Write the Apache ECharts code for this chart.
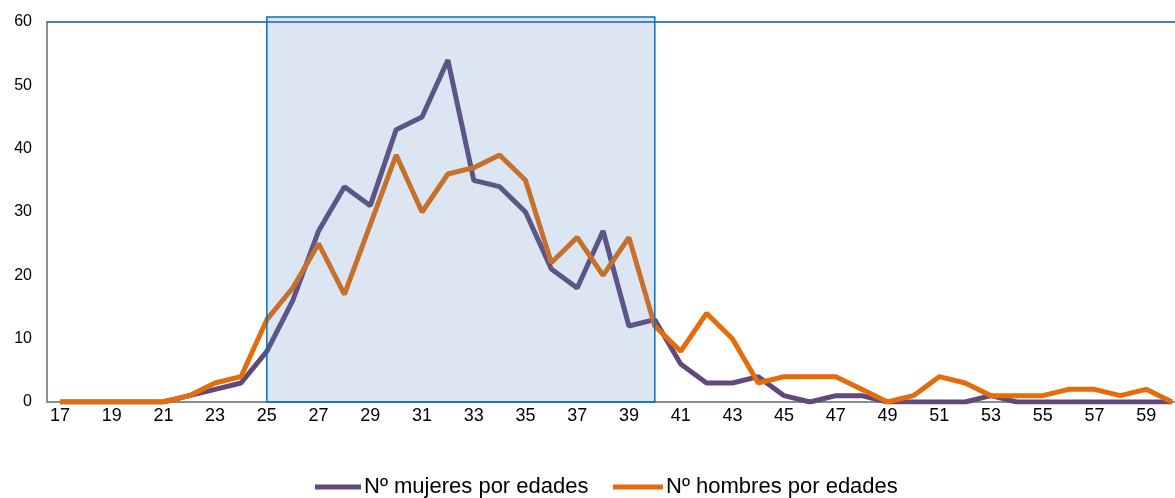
<!DOCTYPE html>
<html><head><meta charset="utf-8">
<script src="https://cdn.jsdelivr.net/npm/echarts@6/dist/echarts.min.js"></script>
<style>html,body{margin:0;padding:0;background:#fff}#c{width:1175px;height:498px}</style>
</head><body><div id="c"></div>
<script>
const ages = ['17','18','19','20','21','22','23','24','25','26','27','28','29','30','31','32','33','34','35','36','37','38','39','40','41','42','43','44','45','46','47','48','49','50','51','52','53','54','55','56','57','58','59','60'];
const mujeres = [0,0,0,0,0,1,2,3,8,16,27,34,31,43,45,54,35,34,30,21,18,27,12,13,6,3,3,4,1,0,1,1,0,0,0,0,1,0,0,0,0,0,0,0];
const hombres = [0,0,0,0,0,1,3,4,13,18,25,17,28,39,30,36,37,39,35,22,26,20,26,12,8,14,10,3,4,4,4,2,0,1,4,3,1,1,1,2,2,1,2,0];
const nameM = 'Nº mujeres por edades';
const nameH = 'Nº hombres por edades';
const bandStart = '25', bandEnd = '40', bandTop = 60.8;

const chart = echarts.init(document.getElementById('c'));
const font = 'Liberation Sans, Arial, sans-serif';
chart.setOption({
  animation: false,
  grid: {left: 47, width: 1138, top: 22, bottom: 96, containLabel: false, outerBoundsMode: 'none'},
  legend: [
    {data: [nameM], left: 310, top: 471, itemWidth: 46, itemHeight: 5, icon: 'rect', itemGap: 5,
     textStyle: {fontFamily: font, fontSize: 22, color: '#000', padding: [0,0,0,-2]}},
    {data: [nameH], left: 608, top: 471, itemWidth: 50, itemHeight: 5, icon: 'rect',
     textStyle: {fontFamily: font, fontSize: 22, color: '#000', padding: [0,0,0,-2]}}
  ],
  xAxis: [{
    type: 'category', data: ages, boundaryGap: true,
    axisLine: {lineStyle: {color: '#868E96', width: 2}},
    axisTick: {show: false},
    axisLabel: {interval: 1, fontFamily: font, fontSize: 18, color: '#000', margin: 5},
    splitLine: {show: false}
  }, {
    type: 'category', data: ages, position: 'top', boundaryGap: true,
    axisLine: {lineStyle: {color: '#4F81BD', width: 2}},
    axisTick: {show: false}, axisLabel: {show: false}
  }],
  yAxis: {
    type: 'value', min: 0, max: 60, interval: 10,
    axisLine: {show: true, lineStyle: {color: '#868E96', width: 2}},
    axisTick: {show: false},
    axisLabel: {fontFamily: font, fontSize: 16, color: '#000', margin: 15},
    splitLine: {show: false}
  },
  series: [
    {name: nameM, type: 'line', data: mujeres, symbol: 'none', z: 2,
     lineStyle: {color: '#604A7B', width: 5}, itemStyle: {color: '#604A7B'}},
    {name: nameH, type: 'line', data: hombres, symbol: 'none', z: 3,
     lineStyle: {color: '#E46C0A', width: 5}, itemStyle: {color: '#E46C0A'}},
    {name: 'band', type: 'custom', data: [[0]], z: 10, clip: false, silent: true,
     renderItem: function (params, api) {
       const p1 = api.coord([ages.indexOf(bandStart), bandTop]);
       const p2 = api.coord([ages.indexOf(bandEnd), 0]);
       return {type: 'rect', shape: {x: p1[0], y: p1[1], width: p2[0] - p1[0], height: p2[1] - p1[1]},
         style: {fill: 'rgba(79,129,189,0.2)', stroke: '#0070C0', lineWidth: 1.5}};
     }}
  ]
});
</script></body></html>
